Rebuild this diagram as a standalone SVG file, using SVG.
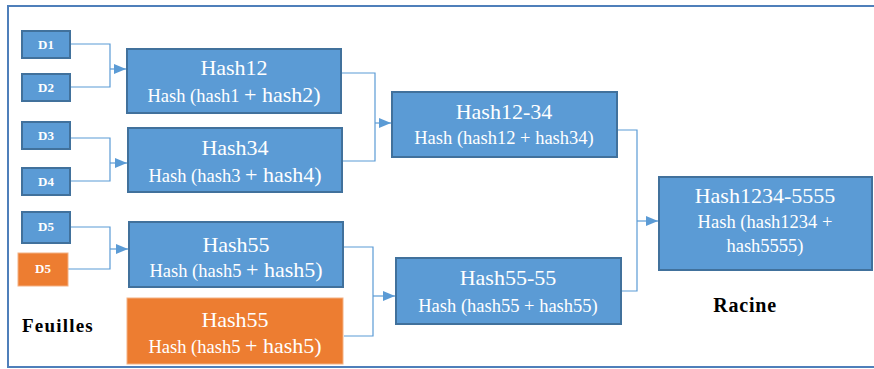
<svg xmlns="http://www.w3.org/2000/svg" width="874" height="369" viewBox="0 0 874 369">
<style>
.b{fill:#5b9bd5;stroke:#41719c;stroke-width:2}
.o{fill:#ed7d31;stroke:#f4b183;stroke-width:1}
.t{font-family:"Liberation Serif",serif;fill:#fff;text-anchor:middle}
.ti{font-size:22px}
.s{font-size:18.5px}
.l{font-size:22px}
.d{font-family:"Liberation Serif",serif;font-weight:bold;font-size:13px;fill:#fff;text-anchor:middle}
.lab{font-family:"Liberation Serif",serif;font-weight:bold;fill:#000}
.c{fill:none;stroke:#5b9bd5;stroke-width:1.2}
</style>
<defs>
<marker id="ah" markerWidth="12" markerHeight="10" refX="12" refY="5" orient="auto" markerUnits="userSpaceOnUse">
<path d="M0,0 L12,5 L0,10 z" fill="#5b9bd5"/>
</marker>
</defs>
<rect width="874" height="369" fill="#fff"/>
<path d="M875,6 H8 V367 H875" fill="none" stroke="#4f7fba" stroke-width="2"/>

<g id="connectors">
<path class="c" d="M70,44 H110 V87 H70"/>
<path class="c" d="M110,69 H126" marker-end="url(#ah)"/>
<path class="c" d="M70,138 H110 V181 H70"/>
<path class="c" d="M110,163 H127" marker-end="url(#ah)"/>
<path class="c" d="M70,227 H110 V269 H68"/>
<path class="c" d="M110,249 H128" marker-end="url(#ah)"/>
<path class="c" d="M342,73 H375 V161 H343"/>
<path class="c" d="M375,123 H391" marker-end="url(#ah)"/>
<path class="c" d="M344,247 H373 V336 H344"/>
<path class="c" d="M373,296 H395" marker-end="url(#ah)"/>
<path class="c" d="M618,130 H637 V291 H622"/>
<path class="c" d="M637,221 H658" marker-end="url(#ah)"/>
</g>

<g id="d1"><rect class="b" x="22" y="31" width="48" height="27"/><text class="d" x="46" y="49">D1</text></g>
<g id="d2"><rect class="b" x="22" y="74" width="48" height="27"/><text class="d" x="46" y="92">D2</text></g>
<g id="d3"><rect class="b" x="22" y="122" width="48" height="27"/><text class="d" x="46" y="140">D3</text></g>
<g id="d4"><rect class="b" x="22" y="168" width="48" height="27"/><text class="d" x="46" y="186">D4</text></g>
<g id="d5"><rect class="b" x="22" y="212" width="48" height="31"/><text class="d" x="46" y="231">D5</text></g>
<g id="d5b"><rect class="o" x="18" y="253" width="50" height="33"/><text class="d" x="43" y="273">D5</text></g>

<g id="hash12"><rect class="b" x="127" y="49" width="214" height="64"/>
<text class="t ti" x="234" y="75">Hash12</text>
<text class="t" x="234" y="102"><tspan class="s">Hash (hash1 </tspan><tspan class="l">+ hash2)</tspan></text></g>

<g id="hash34"><rect class="b" x="128" y="128" width="214" height="64"/>
<text class="t ti" x="235" y="155">Hash34</text>
<text class="t" x="235" y="182"><tspan class="s">Hash (hash3 </tspan><tspan class="l">+ hash4)</tspan></text></g>

<g id="hash55"><rect class="b" x="129" y="222" width="214" height="65"/>
<text class="t ti" x="236" y="252">Hash55</text>
<text class="t" x="236" y="277"><tspan class="s">Hash (hash5 </tspan><tspan class="l">+ hash5)</tspan></text></g>

<g id="hash55b"><rect class="o" x="127" y="298" width="216" height="66"/>
<text class="t ti" x="235" y="327">Hash55</text>
<text class="t" x="235" y="353"><tspan class="s">Hash (hash5 </tspan><tspan class="l">+ hash5)</tspan></text></g>

<g id="hash1234"><rect class="b" x="392" y="92" width="225" height="65"/>
<text class="t ti" x="504" y="119">Hash12-34</text>
<text class="t s" x="504" y="144">Hash (hash12 + hash34)</text></g>

<g id="hash5555"><rect class="b" x="396" y="258" width="225" height="66"/>
<text class="t ti" x="508" y="285">Hash55-55</text>
<text class="t s" x="508" y="312">Hash (hash55 + hash55)</text></g>

<g id="root"><rect class="b" x="659" y="177" width="213" height="93"/>
<text class="t ti" x="765" y="203">Hash1234-5555</text>
<text class="t s" x="765" y="228">Hash (hash1234 +</text>
<text class="t s" x="765" y="252">hash5555)</text></g>

<text class="lab" x="22" y="332" font-size="19" letter-spacing="1.2">Feuilles</text>
<text class="lab" x="745" y="312" font-size="20" letter-spacing="0.8" text-anchor="middle">Racine</text>
</svg>
